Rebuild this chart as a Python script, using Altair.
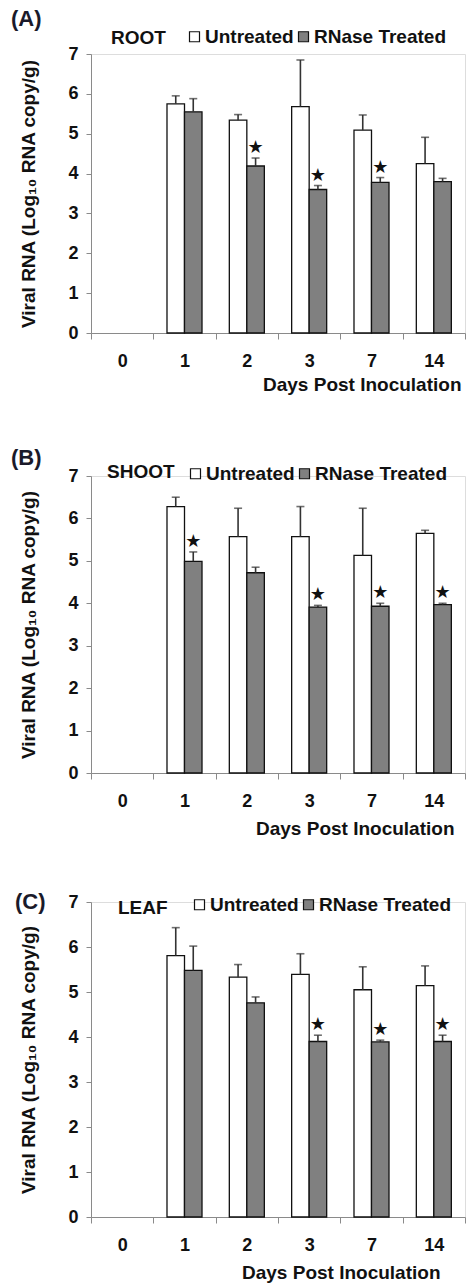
import altair as alt
import pandas as pd

days = ["0", "1", "2", "3", "7", "14"]
measured_days = ["1", "2", "3", "7", "14"]
groups = ["Untreated", "RNase Treated"]

root_untreated = [5.75, 5.34, 5.68, 5.09, 4.25]
root_untreated_err = [0.20, 0.14, 1.17, 0.38, 0.66]
root_treated = [5.55, 4.19, 3.60, 3.78, 3.80]
root_treated_err = [0.33, 0.20, 0.10, 0.12, 0.08]
root_sig = [False, True, True, True, False]

shoot_untreated = [6.28, 5.57, 5.57, 5.13, 5.65]
shoot_untreated_err = [0.22, 0.67, 0.71, 1.11, 0.07]
shoot_treated = [4.99, 4.72, 3.91, 3.93, 3.97]
shoot_treated_err = [0.22, 0.13, 0.04, 0.07, 0.03]
shoot_sig = [True, False, True, True, True]

leaf_untreated = [5.81, 5.33, 5.39, 5.05, 5.14]
leaf_untreated_err = [0.62, 0.28, 0.46, 0.51, 0.44]
leaf_treated = [5.48, 4.76, 3.90, 3.89, 3.90]
leaf_treated_err = [0.54, 0.13, 0.14, 0.04, 0.14]
leaf_sig = [False, False, True, True, True]

FONT = "Liberation Sans"
TXT = "#111111"
AX = "#8a8a8a"
W = 374


def panel(letter, tissue, u, ue, t, te, sig, height,
          letter_x, letter_y, tissue_x, tissue_y, legend_x, legend_y,
          title_x, title_pad):
    rows = []
    for i, d in enumerate(measured_days):
        rows.append(dict(day=d, group="Untreated", value=u[i],
                         upper=u[i] + ue[i], sig=False))
        rows.append(dict(day=d, group="RNase Treated", value=t[i],
                         upper=t[i] + te[i], sig=sig[i]))
    df = pd.DataFrame(rows)

    x = alt.X("day:N", sort=days,
              scale=alt.Scale(domain=days, paddingInner=0, paddingOuter=0),
              axis=alt.Axis(title="Days Post Inoculation", labelAngle=0,
                            tickBand="extent", tickSize=6, tickColor=AX,
                            domainColor=AX, labelFont=FONT, labelFontSize=18,
                            labelFontWeight="bold", labelColor=TXT,
                            labelPadding=13, titleFont=FONT, titleFontSize=19,
                            titleFontWeight="bold", titleColor=TXT,
                            titlePadding=title_pad, titleX=title_x,
                            titleAlign="right", grid=False))
    yaxis = alt.Axis(values=list(range(8)), tickCount=8,
                     title="Viral RNA (Log\u2081\u2080 RNA copy/g)",
                     tickSize=5, tickColor=AX, domainColor=AX,
                     labelFont=FONT, labelFontSize=18, labelOverlap=False,
                     labelFontWeight="bold", labelColor=TXT,
                     labelPadding=8, titleFont=FONT, titleFontSize=19,
                     titleFontWeight="bold", titleColor=TXT,
                     titlePadding=29, grid=False)
    yscale = alt.Scale(domain=[0, 7], nice=False)

    def Y(field):
        return alt.Y(field, scale=yscale, axis=yaxis,
                     title="Viral RNA (Log\u2081\u2080 RNA copy/g)")

    xo = alt.XOffset("group:N", sort=groups,
                     scale=alt.Scale(domain=groups, paddingInner=0,
                                     paddingOuter=0.78))

    base = alt.Chart(df)
    bars = base.mark_bar(stroke="#111111", strokeWidth=1.3).encode(
        x=x, xOffset=xo, y=Y("value:Q"),
        fill=alt.Fill("group:N", sort=groups,
                      scale=alt.Scale(domain=groups,
                                      range=["#ffffff", "#808080"]),
                      legend=alt.Legend(orient="none", legendX=legend_x,
                                        legendY=legend_y,
                                        direction="horizontal", title=None,
                                        symbolType="square", symbolSize=100,
                                        symbolStrokeColor="#111111",
                                        symbolStrokeWidth=1.2,
                                        symbolOpacity=1, padding=0,
                                        labelFont=FONT, labelFontSize=19,
                                        labelFontWeight="bold",
                                        labelColor=TXT, labelOffset=1,
                                        columnPadding=0)),
    )
    rules = base.mark_rule(color="#333333", strokeWidth=1.6).encode(
        x=x, xOffset=xo, y=Y("value:Q"), y2="upper:Q")
    caps = base.mark_tick(color="#333333", size=8, thickness=1.6,
                          orient="horizontal").encode(
        x=x, xOffset=xo, y=Y("upper:Q"))
    stars = base.transform_filter("datum.sig").mark_text(
        text="\u2605", font="DejaVu Sans", fontSize=18, color="#111111",
        baseline="bottom", dy=-1).encode(x=x, xOffset=xo, y=Y("upper:Q"))

    lab = alt.Chart(pd.DataFrame({"t": [letter]})).mark_text(
        font=FONT, fontSize=22, fontWeight="bold", color="#1a1a2a",
        align="left", baseline="middle").encode(
        text="t:N", x=alt.value(letter_x), y=alt.value(letter_y))
    tis = alt.Chart(pd.DataFrame({"t": [tissue]})).mark_text(
        font=FONT, fontSize=19, fontWeight="bold", color=TXT,
        align="left", baseline="middle").encode(
        text="t:N", x=alt.value(tissue_x), y=alt.value(tissue_y))

    return alt.layer(bars, rules, caps, stars, lab, tis).properties(
        width=W, height=height)


a = panel("(A)", "ROOT", root_untreated, root_untreated_err, root_treated,
          root_treated_err, root_sig, 279,
          -80, -35, 20, -16, 94, -27, 370, 5)
b = panel("(B)", "SHOOT", shoot_untreated, shoot_untreated_err,
          shoot_treated, shoot_treated_err, shoot_sig, 297,
          -80, -18, 16, -4, 95, -12, 363, 9)
c = panel("(C)", "LEAF", leaf_untreated, leaf_untreated_err, leaf_treated,
          leaf_treated_err, leaf_sig, 315,
          -76, 0, 27, 6, 99, -7, 349, 9)

chart = alt.vconcat(a, b, c, spacing=51).resolve_scale(
    fill="independent").resolve_legend(fill="independent").properties(
    padding={"left": 10, "top": 7, "right": 0, "bottom": 0}
).configure_view(stroke=None).configure(font=FONT)

chart.save("out.html", embed_options={"renderer": "svg", "actions": False})
